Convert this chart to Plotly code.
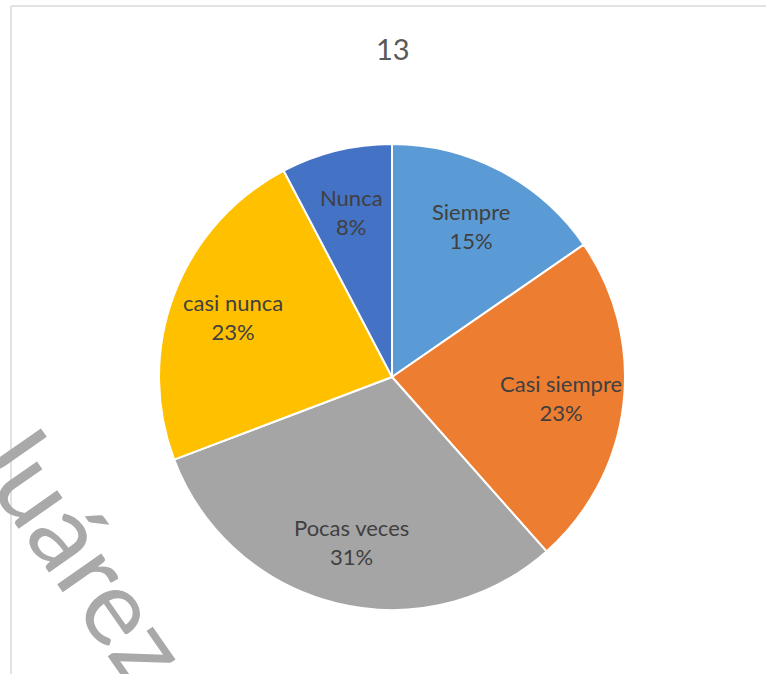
import math
import plotly.graph_objects as go

# Survey answers for item 13
categories = ["Siempre", "Casi siempre", "Pocas veces", "casi nunca", "Nunca"]
counts = [2, 3, 4, 3, 1]
colors = ["#5B9BD5", "#ED7D31", "#A5A5A5", "#FFC000", "#4472C4"]

W, H = 766, 674
cx, cy, R = 392, 377, 233  # pie centre and radius in pixels
LABEL_R = 0.73             # label distance from centre, as a fraction of R

fig = go.Figure(
    go.Pie(
        labels=categories,
        values=counts,
        sort=False,
        direction="clockwise",
        rotation=0,
        marker=dict(colors=colors, line=dict(color="white", width=2)),
        textinfo="none",
        hoverinfo="label+percent",
        showlegend=False,
        domain=dict(
            x=[(cx - 270) / W, (cx + 270) / W],
            y=[(H - cy - R) / H, (H - cy + R) / H],
        ),
    )
)

# data labels: category name and rounded share, at each slice's mid-angle
total = sum(counts)
annotations = []
cum = 0
for name, v in zip(categories, counts):
    mid = (cum + v / 2) / total * 2 * math.pi  # clockwise from 12 o'clock
    cum += v
    px = cx + LABEL_R * R * math.sin(mid)
    py = cy - LABEL_R * R * math.cos(mid)
    annotations.append(dict(
        text=f"{name}<br>{round(100 * v / total)}%",
        x=px / W, y=1 - py / H, xref="paper", yref="paper",
        showarrow=False, align="center", xanchor="center", yanchor="middle",
        font=dict(family="Lato", size=22, color="#404040"),
    ))

annotations += [
    dict(
        text="13", x=393 / W, y=1 - 48 / H, xref="paper", yref="paper",
        showarrow=False, font=dict(family="Lato", size=29, color="#595959"),
        xanchor="center", yanchor="middle",
    ),
    dict(
        text="Juárez", x=82 / W, y=1 - 548 / H, xref="paper", yref="paper",
        showarrow=False, textangle=55,
        font=dict(family="Lato", size=106, color="#A9A9A9"),
        xanchor="center", yanchor="middle",
    ),
]

fig.update_layout(
    width=W,
    height=H,
    margin=dict(l=0, r=0, t=0, b=0),
    paper_bgcolor="white",
    plot_bgcolor="white",
    showlegend=False,
    annotations=annotations,
    shapes=[
        dict(type="line", xref="paper", yref="paper",
             x0=11 / W, x1=1.01, y0=1 - 6 / H, y1=1 - 6 / H,
             line=dict(color="#D9D9D9", width=1.5)),
        dict(type="line", xref="paper", yref="paper",
             x0=11 / W, x1=11 / W, y0=1 - 6 / H, y1=-0.01,
             line=dict(color="#D9D9D9", width=1.5)),
    ],
)

fig.write_html("out.html")
